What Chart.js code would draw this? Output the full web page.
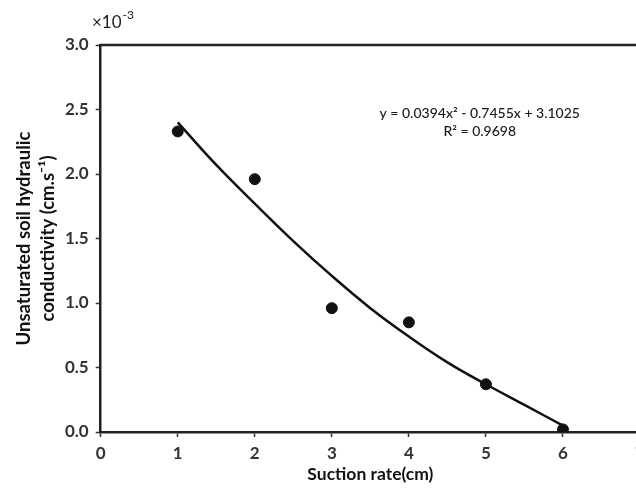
<!DOCTYPE html>
<html>
<head>
<meta charset="utf-8">
<script src="https://cdn.jsdelivr.net/npm/chart.js@4"></script>
<style>
  html, body { margin: 0; padding: 0; background: #fff; overflow: hidden; }
  #wrap { width: 660px; height: 493px; }
</style>
</head>
<body>
<div id="wrap"><canvas id="soilChart" width="660" height="493"></canvas></div>
<script>
// measured points (units of 10^-3 cm/s)
const suction = [1, 2, 3, 4, 5, 6];
const conductivity = [2.33, 1.96, 0.96, 0.85, 0.37, 0.02];

// polynomial trendline
const trendX = [1, 1.5, 2, 2.5, 3, 3.5, 4, 4.5, 5, 5.5, 6];
const trendY = [2.40, 2.07, 1.77, 1.48, 1.21, 0.96, 0.74, 0.54, 0.37, 0.21, 0.05];

const xTicks = [0, 1, 2, 3, 4, 5, 6, 7];
const yTicks = [0, 0.5, 1.0, 1.5, 2.0, 2.5, 3.0];

const eqLine1 = 'y = 0.0394x² - 0.7455x + 3.1025';
const eqLine2 = 'R² = 0.9698';

const FONT = 'Lato, "Open Sans", sans-serif';

const pts = suction.map((x, i) => ({x: x, y: conductivity[i]}));
const trend = trendX.map((x, i) => ({x: x, y: trendY[i]}));

// frame top line, exponent label and the equation text
const extras = {
  id: 'extras',
  afterDraw(chart) {
    const c = chart.ctx;
    const a = chart.chartArea;
    const xs = chart.scales.x, ys = chart.scales.y;
    c.save();
    c.strokeStyle = '#222';
    c.lineWidth = 2.5;
    c.beginPath();
    c.moveTo(a.left - 1, a.top);
    c.lineTo(a.right, a.top);
    c.stroke();

    c.fillStyle = '#222';
    c.textBaseline = 'alphabetic';
    c.textAlign = 'left';
    c.font = '17px ' + FONT;
    c.fillText('×10', 92, 28);
    const w = c.measureText('×10').width;
    c.font = '12px ' + FONT;
    c.fillText('-3', 92 + w + 1, 19);

    c.textAlign = 'center';
    c.textBaseline = 'middle';
    c.font = '500 14px ' + FONT;
    c.fillStyle = '#1a1a1a';
    const ex = xs.getPixelForValue(4.92);
    c.fillText(eqLine1, ex, ys.getPixelForValue(2.47));
    c.fillText(eqLine2, ex, ys.getPixelForValue(2.33));
    c.restore();
  }
};

new Chart(document.getElementById('soilChart'), {
  type: 'scatter',
  data: {
    datasets: [
      {
        label: 'trend',
        data: trend,
        showLine: true,
        borderColor: '#111',
        borderWidth: 2.5,
        tension: 0.4,
        pointRadius: 0,
        order: 2
      },
      {
        label: 'measured',
        data: pts,
        backgroundColor: '#111',
        borderColor: '#111',
        pointRadius: 5.5,
        order: 1
      }
    ]
  },
  options: {
    responsive: false,
    animation: false,
    layout: { padding: { top: 45, right: 20, left: 0, bottom: 0 } },
    plugins: { legend: { display: false }, tooltip: { enabled: false } },
    scales: {
      x: {
        type: 'linear',
        min: 0,
        max: 7,
        afterBuildTicks: s => { s.ticks = xTicks.map(v => ({value: v})); },
        afterFit: s => { s.height = 61; },
        grid: { drawOnChartArea: false, drawTicks: true, tickLength: 5, tickColor: '#333', tickWidth: 1.5 },
        border: { color: '#222', width: 2.5 },
        ticks: { color: '#333', padding: 6, font: { family: FONT, size: 17, weight: 'bold' } },
        title: {
          display: true,
          text: 'Suction rate(cm)',
          color: '#111',
          padding: { top: 0, bottom: 8 },
          font: { family: FONT, size: 17.5, weight: 'bold', lineHeight: 1.2 }
        }
      },
      y: {
        min: 0,
        max: 3,
        afterBuildTicks: s => { s.ticks = yTicks.map(v => ({value: v})); },
        afterFit: s => { s.width = 100.7; },
        grid: { drawOnChartArea: false, drawTicks: true, tickLength: 5, tickColor: '#333', tickWidth: 1.5 },
        border: { color: '#222', width: 2.5 },
        ticks: {
          color: '#333',
          padding: 7,
          font: { family: FONT, size: 17, weight: 'bold' },
          callback: v => Number(v).toFixed(1)
        },
        title: {
          display: true,
          text: ['Unsaturated soil hydraulic', 'conductivity (cm.s⁻¹)'],
          color: '#111',
          padding: { top: 12, bottom: 0 },
          font: { family: FONT, size: 18.5, weight: 'bold', lineHeight: 1.3 }
        }
      }
    }
  },
  plugins: [extras]
});
</script>
</body>
</html>
